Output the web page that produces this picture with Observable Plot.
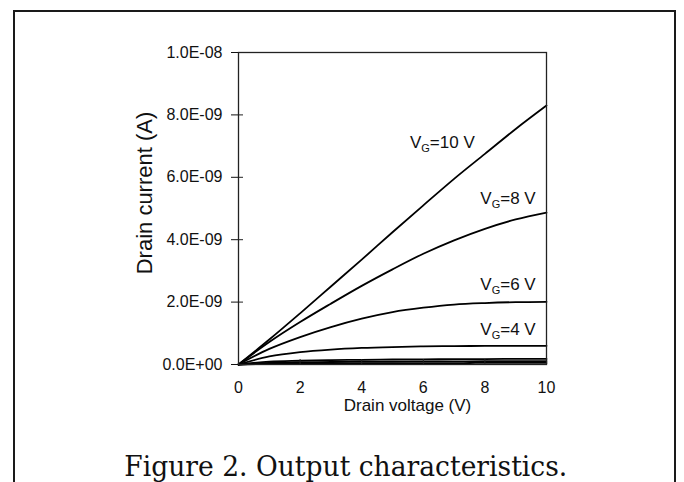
<!DOCTYPE html>
<html><head><meta charset="utf-8">
<script src="https://cdn.jsdelivr.net/npm/d3@7"></script>
<script src="https://cdn.jsdelivr.net/npm/@observablehq/plot@0.6"></script>
<style>
html,body{margin:0;padding:0;background:#fff;overflow:hidden;width:684px;height:482px}
#wrap{position:relative;width:684px;height:482px;overflow:hidden}
#border{position:absolute;left:13px;top:10px;width:659px;height:600px;border:2.5px solid #1a1a1a;pointer-events:none}
#chart{position:absolute;left:0;top:0}
</style></head>
<body><div id="wrap"><div id="chart"></div><div id="border"></div></div>
<script>
// Drain voltage (V)
const voltage = [0, 1, 2, 3, 4, 5, 6, 7, 8, 9, 10];
// Drain current in nA for each gate voltage
const vg10 = [0, 0.80, 1.64, 2.50, 3.36, 4.24, 5.10, 5.95, 6.75, 7.55, 8.30];
const vg8  = [0, 0.72, 1.36, 1.95, 2.52, 3.05, 3.55, 3.98, 4.35, 4.65, 4.87];
const vg6  = [0, 0.50, 0.88, 1.20, 1.47, 1.68, 1.82, 1.92, 1.97, 2.00, 2.01];
const vg4  = [0, 0.26, 0.40, 0.48, 0.53, 0.56, 0.58, 0.59, 0.595, 0.60, 0.60];
const vg2  = [0, 0.09, 0.12, 0.14, 0.15, 0.16, 0.165, 0.17, 0.175, 0.18, 0.18];
const vg0  = [0, 0.05, 0.07, 0.08, 0.09, 0.095, 0.10, 0.10, 0.105, 0.11, 0.11];
const vgm2 = [0, 0.02, 0.03, 0.035, 0.04, 0.04, 0.045, 0.045, 0.05, 0.05, 0.05];
const seriesNames = ["VG=10 V", "VG=8 V", "VG=6 V", "VG=4 V", "VG=2 V", "VG=0 V", "VG=-2 V"];
const seriesValues = [vg10, vg8, vg6, vg4, vg2, vg0, vgm2];

const xTicks = [0, 2, 4, 6, 8, 10];
const xTicksInner = [2, 4, 6, 8];
const yTicks = [0, 2e-9, 4e-9, 6e-9, 8e-9, 1e-8];

// curve annotations (data units)
const labelText = ["VG=10 V", "VG=8 V", "VG=6 V", "VG=4 V"];
const labelV = [7.67, 9.65, 9.65, 9.65];
const labelI = [6.95e-9, 5.14e-9, 2.38e-9, 0.93e-9];

const xLabel = "Drain voltage (V)";
const yLabel = "Drain current (A)";
const caption = "Figure 2. Output characteristics.";

const table = seriesNames.flatMap((s, k) => voltage.map((v, j) => ({s, v, i: seriesValues[k][j] * 1e-9})));
const labels = labelText.map((t, k) => ({t, v: labelV[k], i: labelI[k]}));

const fmtE = v => {
  const [m, e] = v.toExponential(1).split("e");
  const n = +e;
  return m + "E" + (n < 0 ? "-" : "+") + String(Math.abs(n)).padStart(2, "0");
};

const chart = Plot.plot({
  width: 684, height: 482,
  marginLeft: 238, marginRight: 138, marginTop: 52, marginBottom: 118,
  style: {fontFamily: "'Liberation Sans', Arial, sans-serif", color: "#111", background: "transparent"},
  x: {domain: [0, 10]},
  y: {domain: [0, 1e-8]},
  marks: [
    Plot.line(table, {x: "v", y: "i", z: "s", stroke: "#000", strokeWidth: 1.8, curve: "monotone-x"}),
    Plot.frame({stroke: "#222", strokeWidth: 1.3}),
    Plot.axisY({ticks: yTicks, tickSize: 7, tickPadding: 9, tickFormat: fmtE, fontSize: 16, label: null}),
    Plot.axisY({ticks: yTicks, tickSize: 5, dx: 5, stroke: "#222", fill: "none", label: null}),
    Plot.axisX({ticks: xTicks, tickSize: 0, tickPadding: 17, fontSize: 16, label: null}),
    Plot.axisX({ticks: xTicksInner, tickSize: 5, dy: -5, stroke: "#222", fill: "none", label: null}),
    Plot.text(labels, {x: "v", y: "i", text: "t", textAnchor: "end", lineAnchor: "bottom", fontSize: 17, fill: "#111", className: "vg"}),
    Plot.text([yLabel], {text: d => d, frameAnchor: "left", dx: -94, dy: -15.5, rotate: -90, textAnchor: "middle", lineAnchor: "middle", fontSize: 22, fill: "#111"}),
    Plot.text([xLabel], {text: d => d, frameAnchor: "bottom", dx: 15, dy: 41, textAnchor: "middle", lineAnchor: "middle", fontSize: 17, fill: "#111"}),
    Plot.text([caption], {text: d => d, frameAnchor: "bottom", dx: -46.7, dy: 111, textAnchor: "middle", lineAnchor: "bottom", fontSize: 27, fontFamily: "'DejaVu Serif', serif", fill: "#111", className: "caption"})
  ]
});
document.getElementById("chart").appendChild(chart);

// subscript G in V_G labels
d3.select(chart).selectAll("g.vg text").each(function() {
  const t = d3.select(this);
  const s = t.text();
  t.text(null);
  t.append("tspan").text(s.slice(0, 1));
  t.append("tspan").attr("font-size", 11).attr("dy", 4).text(s.slice(1, 2));
  t.append("tspan").attr("dy", -4).text(s.slice(2));
});
d3.select(chart).selectAll("g.caption text").attr("textLength", 443).attr("lengthAdjust", "spacingAndGlyphs");
</script></body></html>
